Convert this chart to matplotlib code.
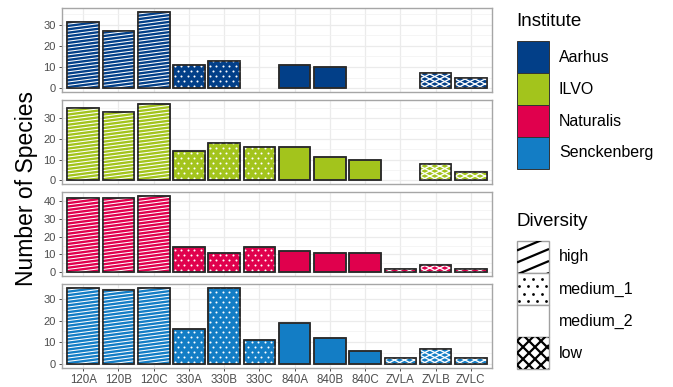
import numpy as np
import matplotlib
matplotlib.use("Agg")
import matplotlib.pyplot as plt
from matplotlib.collections import LineCollection
from matplotlib.patches import Rectangle

plt.rcParams['font.family'] = ['Liberation Sans', 'DejaVu Sans']

# ---- data -------------------------------------------------------------
sites = ['120A', '120B', '120C', '330A', '330B', '330C',
         '840A', '840B', '840C', 'ZVLA', 'ZVLB', 'ZVLC']
diversity = ['high'] * 3 + ['medium_1'] * 3 + ['medium_2'] * 3 + ['low'] * 3
institutes = ['Aarhus', 'ILVO', 'Naturalis', 'Senckenberg']
aarhus = [31, 27, 36, 11, 13, None, 11, 10, None, None, 7, 5]
ilvo = [35, 33, 37, 14, 18, 16, 16, 11, 10, None, 8, 4]
naturalis = [42, 42, 43, 14, 11, 14, 12, 11, 11, 2, 4, 2]
senckenberg = [35, 34, 35, 16, 35, 11, 19, 12, 6, 3, 7, 3]
series = [aarhus, ilvo, naturalis, senckenberg]
colors = ['#023f88', '#a3c41c', '#e0004d', '#137dc5']
diversity_levels = ['high', 'medium_1', 'medium_2', 'low']
y_ticks = [[0, 10, 20, 30], [0, 10, 20, 30], [0, 10, 20, 30, 40], [0, 10, 20, 30]]

W, H = 673, 387
fig = plt.figure(figsize=(W / 100, H / 100), dpi=100)
LEFT, RIGHT = 62, 492
panels = [(8, 92), (100, 184), (192, 276), (284, 368)]
BAR_W = 0.9


def stripe_lines(w, h, slope, spacing, both=False):
    """Parallel lines (pixel units) covering a w x h box, origin bottom-left."""
    segs = []
    slopes = [slope, -slope] if both else [slope]
    for k in slopes:
        c = -abs(k) * w - spacing
        while c < h + abs(k) * w + spacing:
            segs.append([(0, c), (w, c + k * w)])
            c += spacing
    return segs


def dot_grid(w, h, dx, dy):
    pts = []
    row = 0
    y = dy / 2
    while y < h + dy:
        x = (dx / 2 if row % 2 else 0) + dx / 4
        while x < w + dx:
            pts.append((x, y))
            x += dx
        y += dy
        row += 1
    return np.array(pts)


for i, (vals, col, (top, bot), ticks) in enumerate(zip(series, colors, panels, y_ticks)):
    ax = fig.add_axes([LEFT / W, 1 - bot / H, (RIGHT - LEFT) / W, (bot - top) / H])
    vmax = max(v for v in vals if v is not None)
    ylo, yhi = -0.05 * vmax, 1.05 * vmax
    ax.set_xlim(0.4, len(sites) + 0.6)
    ax.set_ylim(ylo, yhi)
    sx = (RIGHT - LEFT) / (len(sites) + 0.2)
    sy = (bot - top) / (yhi - ylo)

    ax.set_xticks(np.arange(1, len(sites) + 1))
    ax.set_yticks(ticks)
    ax.set_yticks([t + 5 for t in ticks if t + 5 < yhi], minor=True)
    ax.grid(True, which='major', color='#ebebeb', lw=0.9)
    ax.grid(True, which='minor', axis='y', color='#f2f2f2', lw=0.5)
    ax.set_axisbelow(True)
    for s in ax.spines.values():
        s.set_color('#a6a6a6')
        s.set_linewidth(1.0)
    ax.tick_params(axis='y', which='major', length=2.5, width=0.7, color='#4d4d4d',
                   labelsize=8, labelcolor='#4d4d4d', pad=2)
    ax.tick_params(axis='y', which='minor', length=0)
    if i == len(series) - 1:
        ax.set_xticklabels(sites)
        ax.tick_params(axis='x', length=2.5, width=0.7, color='#4d4d4d',
                       labelsize=8.3, labelcolor='#4d4d4d', pad=2)
    else:
        ax.tick_params(axis='x', length=0, labelbottom=False)

    for j, (v, d) in enumerate(zip(vals, diversity)):
        if v is None:
            continue
        x0 = j + 1 - BAR_W / 2
        bars = ax.bar(j + 1, v, width=BAR_W, color=col, edgecolor='#2b2b2b',
                      linewidth=1.1, zorder=2)
        rect = bars[0]
        wpx, hpx = BAR_W * sx, v * sy
        if d in ('high', 'low'):
            if d == 'high':
                segs = stripe_lines(wpx, hpx, 0.13, 3.4)
                lw = 0.75
            else:
                segs = stripe_lines(wpx, hpx, 0.5, 5.0, both=True)
                lw = 0.95
            segs = [[(x0 + px / sx, py / sy) for px, py in s] for s in segs]
            lc = LineCollection(segs, colors='white', linewidths=lw, zorder=3)
            ax.add_collection(lc)
            lc.set_clip_path(rect)
        elif d == 'medium_1':
            pts = dot_grid(wpx, hpx, 6.5, 5.0)
            sc = ax.scatter(x0 + pts[:, 0] / sx, pts[:, 1] / sy, s=2.2, c='white',
                            linewidths=0, zorder=3)
            sc.set_clip_path(rect)
        # outline drawn again above the pattern
        ax.add_patch(Rectangle((x0, 0), BAR_W, v, fill=False, edgecolor='#2b2b2b',
                               linewidth=1.1, zorder=4))

fig.text(27 / W, 1 - 188 / H, 'Number of Species', rotation=90, ha='center',
         va='center', fontsize=16.5, color='black')

# ---- legends (pixel coordinates) -------------------------------------
lax = fig.add_axes([0, 0, 1, 1])
lax.set_xlim(0, W)
lax.set_ylim(H, 0)
lax.axis('off')

KX, KW, KH = 517, 32, 32
lax.text(516, 21, 'Institute', fontsize=13.5, va='center', ha='left')
for k, (name, col) in enumerate(zip(institutes, colors)):
    y0 = 41 + k * KH
    lax.add_patch(Rectangle((KX, y0), KW, KH, facecolor=col, edgecolor='#333333', lw=0.7))
    lax.text(559, y0 + KH / 2, name, fontsize=11.5, va='center', ha='left')

lax.text(516, 221, 'Diversity', fontsize=13.5, va='center', ha='left')
for k, name in enumerate(diversity_levels):
    y0 = 241 + k * KH
    key = Rectangle((KX, y0), KW, KH, facecolor='white', edgecolor='#a0a0a0', lw=1.0)
    lax.add_patch(key)
    if name == 'high':
        segs = stripe_lines(KW, KH, 0.42, 12)
        segs = [[(KX + px, y0 + KH - py) for px, py in s] for s in segs]
        lc = LineCollection(segs, colors='black', linewidths=1.6)
        lax.add_collection(lc)
        lc.set_clip_path(key)
    elif name == 'low':
        segs = stripe_lines(KW, KH, 1.0, 12, both=True)
        segs = [[(KX + px, y0 + KH - py) for px, py in s] for s in segs]
        lc = LineCollection(segs, colors='black', linewidths=1.6)
        lax.add_collection(lc)
        lc.set_clip_path(key)
    elif name == 'medium_1':
        pts = dot_grid(KW, KH, 9, 7.5)
        sc = lax.scatter(KX + pts[:, 0], y0 + KH - pts[:, 1], s=4, c='black', linewidths=0)
        sc.set_clip_path(key)
    lax.text(559, y0 + KH / 2, name, fontsize=11.5, va='center', ha='left')

fig.savefig('out.png', dpi=100)
